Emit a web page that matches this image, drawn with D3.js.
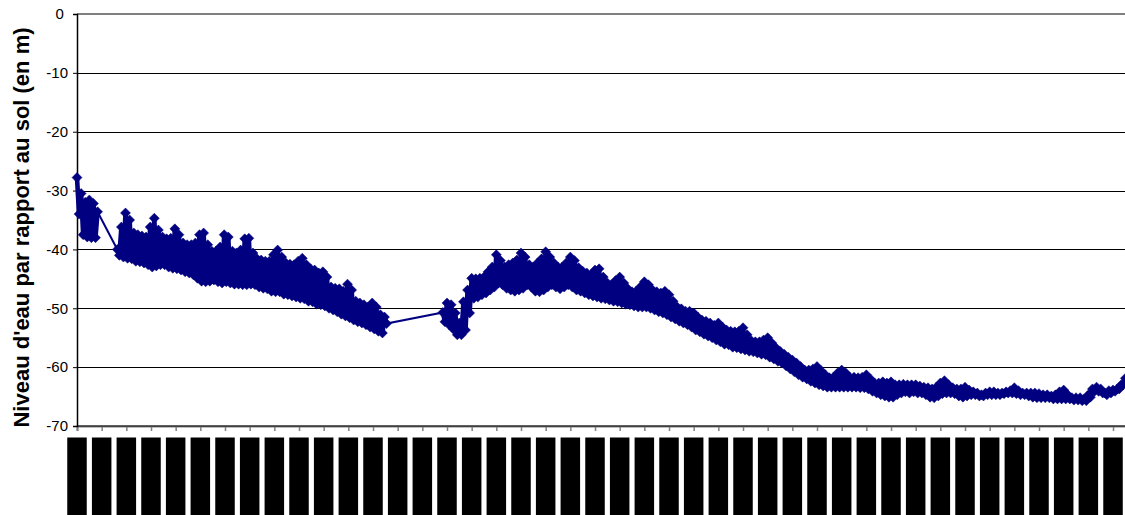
<!DOCTYPE html>
<html><head><meta charset="utf-8">
<script src="https://cdn.jsdelivr.net/npm/d3@7"></script>
<style>
body{margin:0;background:#fff;overflow:hidden}
svg{display:block}
text{font-family:Arial,"Liberation Sans",sans-serif}
</style>
</head><body>
<svg id="c" width="1125" height="515"></svg>
<script>
// ---------------- data ----------------
const yTicks = [0, -10, -20, -30, -40, -50, -60, -70];
const yTickLabels = ["0\u00a0", "-10", "-20", "-30", "-40", "-50", "-60", "-70"];
const yTitle = "Niveau d'eau par rapport au sol (en m)";

// x axis: days since first tick, one tick every 30 days
const xTickDays = [0,30,60,90,120,150,180,210,240,270,300,330,360,390,420,450,480,510,540,570,600,630,660,690,720,750,780,810,840,870,900,930,960,990,1020,1050,1080,1110,1140,1170,1200,1230,1260];
const xTickLabels = ["01/01/2003","31/01/2003","02/03/2003","01/04/2003","01/05/2003","31/05/2003","30/06/2003","30/07/2003","29/08/2003","28/09/2003","28/10/2003","27/11/2003","27/12/2003","26/01/2004","25/02/2004","26/03/2004","25/04/2004","25/05/2004","24/06/2004","24/07/2004","23/08/2004","22/09/2004","22/10/2004","21/11/2004","21/12/2004","20/01/2005","19/02/2005","21/03/2005","20/04/2005","20/05/2005","19/06/2005","19/07/2005","18/08/2005","17/09/2005","17/10/2005","16/11/2005","16/12/2005","15/01/2006","14/02/2006","16/03/2006","15/04/2006","15/05/2006","14/06/2006"];

// readings: every 5 days a high reading, 2.5 days later a low reading
const stepDays = 5;
const seg1Start = 0, seg2Start = 49, seg3Start = 445;
const seg1Hi = [-27.8,-30.5,-32.0,-31.6,-32.2,-33.6];
const seg1Lo = [-34.0,-37.5,-37.9,-38.0,-38.0,null];

const seg2Hi = [-40.0,-36.2,-33.8,-35.0,-37.2,-37.5,-37.7,-37.9,-36.2,-34.7,
-36.7,-37.9,-38.2,-38.1,-36.5,-37.5,-38.9,-39.2,-39.2,-38.9,
-37.5,-37.2,-39.2,-40.3,-40.3,-39.6,-37.5,-37.9,-40.3,-40.6,
-40.1,-38.2,-38.1,-40.6,-41.6,-41.8,-42.0,-42.0,-40.9,-40.1,
-41.3,-42.3,-42.5,-42.6,-42.0,-41.5,-42.6,-43.3,-43.5,-44.0,
-43.8,-44.7,-46.4,-46.6,-46.7,-47.1,-45.9,-46.9,-48.8,-49.1,
-49.4,-49.8,-49.1,-49.8,-51.1,-51.5];
const seg2Lo = [-41.0,-41.3,-41.5,-41.6,-42.0,-42.1,-42.3,-42.6,-43.0,-42.8,
-42.6,-42.6,-43.0,-43.2,-43.3,-43.5,-43.8,-44.0,-44.3,-44.9,
-45.4,-45.5,-45.4,-45.2,-45.5,-45.7,-45.5,-45.7,-45.9,-45.9,
-46.0,-46.0,-45.9,-46.0,-46.4,-46.6,-46.7,-47.1,-47.2,-47.2,
-47.6,-47.7,-47.9,-48.1,-48.3,-48.4,-48.8,-48.9,-49.3,-49.4,
-49.6,-50.0,-50.3,-50.6,-51.0,-51.3,-51.6,-52.0,-52.3,-52.5,
-52.8,-53.2,-53.5,-53.9,-54.2,-52.6];

const seg3Hi = [-50.7,-49.1,-49.4,-50.8,-52.5,-48.9,-46.9,-44.9,-45.0,-44.9,
-44.7,-43.8,-43.0,-40.9,-41.9,-43.0,-42.6,-42.3,-41.8,-40.6,
-41.3,-42.6,-43.0,-42.3,-41.6,-40.4,-41.3,-42.3,-43.0,-43.0,
-42.3,-41.3,-41.9,-43.1,-43.7,-44.0,-44.3,-43.5,-43.3,-44.7,
-45.7,-46.0,-45.3,-44.7,-45.7,-46.7,-47.2,-47.1,-46.4,-45.5,
-46.0,-46.9,-47.2,-47.4,-47.1,-47.7,-48.8,-49.8,-50.1,-50.5,
-50.5,-50.8,-51.5,-52.0,-52.2,-52.5,-52.9,-52.5,-53.2,-53.7,
-53.9,-54.0,-53.9,-53.3,-54.5,-55.5,-55.7,-55.7,-55.4,-55.0,
-55.9,-56.7,-57.3,-57.8,-58.3,-58.8,-59.3,-59.9,-60.5,-60.5,
-60.3,-59.9,-60.6,-61.3,-61.8,-61.7,-61.0,-60.5,-61.0,-61.7,
-61.7,-61.8,-61.7,-61.3,-62.0,-62.7,-62.7,-62.5,-62.7,-62.5,
-63.0,-63.0,-62.9,-63.0,-63.0,-63.0,-63.2,-63.4,-63.5,-63.7,
-63.4,-62.7,-62.3,-63.0,-63.5,-63.7,-63.7,-63.4,-63.9,-64.2,
-64.4,-64.7,-64.4,-64.2,-64.2,-64.4,-64.4,-64.2,-64.0,-63.5,
-64.0,-64.4,-64.4,-64.4,-64.4,-64.5,-64.7,-64.7,-64.9,-64.7,
-64.2,-63.9,-64.7,-65.2,-65.2,-65.2,-65.4,-64.7,-63.7,-63.4,
-63.7,-64.4,-64.0,-63.9,-63.7,-63.0,-61.9];
const seg3Lo = [-52.3,-52.8,-53.5,-54.5,-54.5,-53.7,-50.8,-48.3,-48.1,-47.7,
-47.4,-46.9,-46.4,-45.7,-46.0,-46.6,-46.9,-47.1,-46.9,-46.6,
-46.0,-46.4,-47.1,-47.2,-46.9,-46.4,-46.0,-46.4,-46.7,-46.4,
-46.0,-46.4,-46.9,-47.1,-47.4,-47.7,-47.9,-48.1,-48.3,-48.4,
-48.6,-48.8,-48.9,-49.1,-49.3,-49.4,-49.6,-49.8,-49.8,-49.8,
-50.0,-50.3,-50.6,-50.8,-51.1,-51.5,-51.8,-52.2,-52.5,-52.8,
-53.2,-53.7,-54.0,-54.4,-54.7,-55.0,-55.4,-55.7,-56.1,-56.2,
-56.6,-56.7,-56.9,-57.1,-57.3,-57.4,-57.6,-57.8,-57.9,-58.3,
-58.6,-59.0,-59.3,-59.8,-60.3,-60.8,-61.3,-61.7,-62.0,-62.4,
-62.7,-63.0,-63.2,-63.4,-63.4,-63.4,-63.4,-63.4,-63.4,-63.4,
-63.4,-63.5,-63.5,-63.7,-64.1,-64.4,-64.7,-64.9,-65.1,-65.1,
-64.7,-64.4,-64.2,-64.4,-64.2,-64.4,-64.4,-64.7,-65.1,-65.2,
-64.9,-64.5,-64.4,-64.4,-64.5,-64.9,-65.1,-64.9,-64.7,-64.7,
-64.9,-64.9,-64.7,-64.7,-64.7,-64.7,-64.5,-64.4,-64.4,-64.5,
-64.7,-64.7,-64.9,-65.1,-65.2,-65.2,-65.2,-65.2,-65.4,-65.4,
-65.4,-65.4,-65.4,-65.6,-65.6,-65.7,-65.7,-65.1,-64.1,-64.1,
-64.4,-64.7,-64.4,-64.1,-63.7,-63.0,-62.2];

// ---------------- drawing ----------------
const W = 1125, H = 515;
const svg = d3.select("#c");
const x = d3.scaleLinear().domain([0, 1290]).range([77, 77 + 1290 * 24.667 / 30]);
const y = d3.scaleLinear().domain([-70, 0]).range([426, 14]);
const navy = "#000080";

// gridlines
svg.append("g").selectAll("line").data(yTicks.filter(v => v < 0 && v > -70)).join("line")
  .attr("x1", 77).attr("x2", W)
  .attr("y1", d => Math.round(y(d)) + 0.5).attr("y2", d => Math.round(y(d)) + 0.5)
  .attr("stroke", "#000").attr("stroke-width", 1);
// plot top border
svg.append("line").attr("x1", 77).attr("x2", W).attr("y1", y(0)).attr("y2", y(0))
  .attr("stroke", "#808080").attr("stroke-width", 2);

// x axis
const xAxis = svg.append("g").attr("transform", `translate(0,${y(-70)})`)
  .call(d3.axisBottom(x).tickValues(xTickDays.concat([1290])).tickSize(5).tickFormat(""));
xAxis.select(".domain").attr("stroke", "#808080").attr("stroke-width", 2);
xAxis.selectAll(".tick line").attr("stroke", "#808080").attr("stroke-width", 1.5);
svg.append("line").attr("x1", 77).attr("x2", W).attr("y1", y(-70)).attr("y2", y(-70))
  .attr("stroke", "#000").attr("stroke-width", 1);

// x tick labels (masked by black boxes as in the reference)
const lab = svg.append("g").selectAll("g").data(xTickDays).join("g");
lab.append("rect")
  .attr("x", d => x(d) - 9.75).attr("y", 437.5).attr("width", 19.5).attr("height", 80)
  .attr("fill", "#000");
lab.append("text")
  .attr("transform", d => `translate(${x(d) + 5},${440}) rotate(-90)`)
  .attr("text-anchor", "end").attr("font-size", 14).attr("fill", "#000")
  .text((d, i) => xTickLabels[i]);

// y axis
const yAxis = svg.append("g").attr("transform", "translate(77,0)")
  .call(d3.axisLeft(y).tickValues(yTicks).tickSize(4).tickPadding(5)
    .tickFormat((d, i) => yTickLabels[i]));
yAxis.select(".domain").attr("stroke", "#000").attr("stroke-width", 1.5);
yAxis.selectAll(".tick line").attr("stroke", "#000");
yAxis.selectAll(".tick text").attr("font-size", 15).attr("fill", "#000")
  .attr("font-family", "Arial, 'Liberation Sans', sans-serif");

// y title
svg.append("text")
  .attr("transform", `translate(29,${(27 + 428) / 2}) rotate(-90)`)
  .attr("text-anchor", "middle").attr("font-size", 22).attr("font-weight", "bold")
  .attr("fill", "#000").text(yTitle);

// series
function segPts(start, hi, lo) {
  const out = [];
  hi.forEach((h, i) => {
    const d = start + i * stepDays;
    out.push({ d, v: h });
    if (lo[i] != null) out.push({ d: d + stepDays / 2, v: lo[i] });
  });
  return out;
}
const segs = [segPts(seg1Start, seg1Hi, seg1Lo), segPts(seg2Start, seg2Hi, seg2Lo), segPts(seg3Start, seg3Hi, seg3Lo)];
const pts = segs.flat();

const clip = svg.append("clipPath").attr("id", "clp").append("rect")
  .attr("x", 60).attr("y", 0).attr("width", W - 60).attr("height", 432);
const plot = svg.append("g").attr("clip-path", "url(#clp)");
const lineGen = d3.line().x(p => x(p.d)).y(p => y(p.v));
// connecting line of the whole series (visible across the data gaps)
plot.append("path").datum(pts)
  .attr("d", lineGen)
  .attr("fill", "none").attr("stroke", navy).attr("stroke-width", 2);
// dense readings: their joining strokes merge into a solid band
plot.append("g").selectAll("path").data(segs).join("path")
  .attr("d", lineGen)
  .attr("fill", "none").attr("stroke", navy).attr("stroke-width", 4.6)
  .attr("stroke-linejoin", "round").attr("stroke-linecap", "round");
plot.append("g").selectAll("path").data(pts).join("path")
  .attr("transform", p => `translate(${x(p.d)},${y(p.v)})`)
  .attr("d", "M0,-5L5,0L0,5L-5,0Z")
  .attr("fill", navy).attr("stroke", navy).attr("stroke-width", 0.5);
</script>
</body></html>
